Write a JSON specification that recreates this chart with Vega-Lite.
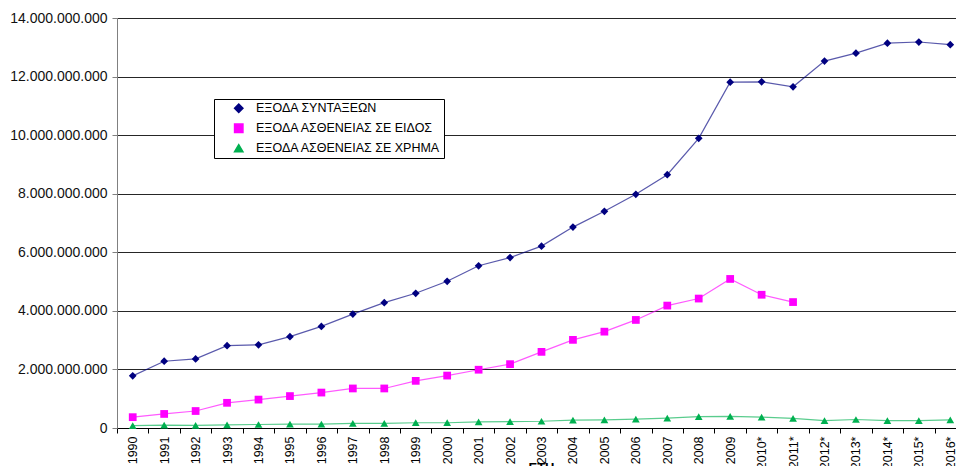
{
  "$schema": "https://vega.github.io/schema/vega-lite/v6.json",
  "autosize": {"type": "none"},
  "padding": {"left": 117, "top": 18, "right": 0, "bottom": 38},
  "width": 839,
  "height": 410,
  "background": "white",
  "config": {
    "view": {"stroke": null},
    "font": "Liberation Sans",
    "locale": {"number": {"decimal": ",", "thousands": ".", "grouping": [3], "currency": ["", " €"]}}
  },
  "data": {
    "values": [
      {"year": "1990", "series": "ΕΞΟΔΑ ΣΥΝΤΑΞΕΩΝ", "value": 1780000000},
      {"year": "1991", "series": "ΕΞΟΔΑ ΣΥΝΤΑΞΕΩΝ", "value": 2280000000},
      {"year": "1992", "series": "ΕΞΟΔΑ ΣΥΝΤΑΞΕΩΝ", "value": 2360000000},
      {"year": "1993", "series": "ΕΞΟΔΑ ΣΥΝΤΑΞΕΩΝ", "value": 2810000000},
      {"year": "1994", "series": "ΕΞΟΔΑ ΣΥΝΤΑΞΕΩΝ", "value": 2840000000},
      {"year": "1995", "series": "ΕΞΟΔΑ ΣΥΝΤΑΞΕΩΝ", "value": 3120000000},
      {"year": "1996", "series": "ΕΞΟΔΑ ΣΥΝΤΑΞΕΩΝ", "value": 3470000000},
      {"year": "1997", "series": "ΕΞΟΔΑ ΣΥΝΤΑΞΕΩΝ", "value": 3890000000},
      {"year": "1998", "series": "ΕΞΟΔΑ ΣΥΝΤΑΞΕΩΝ", "value": 4280000000},
      {"year": "1999", "series": "ΕΞΟΔΑ ΣΥΝΤΑΞΕΩΝ", "value": 4600000000},
      {"year": "2000", "series": "ΕΞΟΔΑ ΣΥΝΤΑΞΕΩΝ", "value": 5010000000},
      {"year": "2001", "series": "ΕΞΟΔΑ ΣΥΝΤΑΞΕΩΝ", "value": 5540000000},
      {"year": "2002", "series": "ΕΞΟΔΑ ΣΥΝΤΑΞΕΩΝ", "value": 5820000000},
      {"year": "2003", "series": "ΕΞΟΔΑ ΣΥΝΤΑΞΕΩΝ", "value": 6210000000},
      {"year": "2004", "series": "ΕΞΟΔΑ ΣΥΝΤΑΞΕΩΝ", "value": 6860000000},
      {"year": "2005", "series": "ΕΞΟΔΑ ΣΥΝΤΑΞΕΩΝ", "value": 7400000000},
      {"year": "2006", "series": "ΕΞΟΔΑ ΣΥΝΤΑΞΕΩΝ", "value": 7980000000},
      {"year": "2007", "series": "ΕΞΟΔΑ ΣΥΝΤΑΞΕΩΝ", "value": 8650000000},
      {"year": "2008", "series": "ΕΞΟΔΑ ΣΥΝΤΑΞΕΩΝ", "value": 9890000000},
      {"year": "2009", "series": "ΕΞΟΔΑ ΣΥΝΤΑΞΕΩΝ", "value": 11810000000},
      {"year": "2010*", "series": "ΕΞΟΔΑ ΣΥΝΤΑΞΕΩΝ", "value": 11820000000},
      {"year": "2011*", "series": "ΕΞΟΔΑ ΣΥΝΤΑΞΕΩΝ", "value": 11650000000},
      {"year": "2012*", "series": "ΕΞΟΔΑ ΣΥΝΤΑΞΕΩΝ", "value": 12530000000},
      {"year": "2013*", "series": "ΕΞΟΔΑ ΣΥΝΤΑΞΕΩΝ", "value": 12800000000},
      {"year": "2014*", "series": "ΕΞΟΔΑ ΣΥΝΤΑΞΕΩΝ", "value": 13140000000},
      {"year": "2015*", "series": "ΕΞΟΔΑ ΣΥΝΤΑΞΕΩΝ", "value": 13180000000},
      {"year": "2016*", "series": "ΕΞΟΔΑ ΣΥΝΤΑΞΕΩΝ", "value": 13090000000},

      {"year": "1990", "series": "ΕΞΟΔΑ ΑΣΘΕΝΕΙΑΣ ΣΕ ΕΙΔΟΣ", "value": 370000000},
      {"year": "1991", "series": "ΕΞΟΔΑ ΑΣΘΕΝΕΙΑΣ ΣΕ ΕΙΔΟΣ", "value": 480000000},
      {"year": "1992", "series": "ΕΞΟΔΑ ΑΣΘΕΝΕΙΑΣ ΣΕ ΕΙΔΟΣ", "value": 580000000},
      {"year": "1993", "series": "ΕΞΟΔΑ ΑΣΘΕΝΕΙΑΣ ΣΕ ΕΙΔΟΣ", "value": 860000000},
      {"year": "1994", "series": "ΕΞΟΔΑ ΑΣΘΕΝΕΙΑΣ ΣΕ ΕΙΔΟΣ", "value": 970000000},
      {"year": "1995", "series": "ΕΞΟΔΑ ΑΣΘΕΝΕΙΑΣ ΣΕ ΕΙΔΟΣ", "value": 1090000000},
      {"year": "1996", "series": "ΕΞΟΔΑ ΑΣΘΕΝΕΙΑΣ ΣΕ ΕΙΔΟΣ", "value": 1210000000},
      {"year": "1997", "series": "ΕΞΟΔΑ ΑΣΘΕΝΕΙΑΣ ΣΕ ΕΙΔΟΣ", "value": 1350000000},
      {"year": "1998", "series": "ΕΞΟΔΑ ΑΣΘΕΝΕΙΑΣ ΣΕ ΕΙΔΟΣ", "value": 1350000000},
      {"year": "1999", "series": "ΕΞΟΔΑ ΑΣΘΕΝΕΙΑΣ ΣΕ ΕΙΔΟΣ", "value": 1610000000},
      {"year": "2000", "series": "ΕΞΟΔΑ ΑΣΘΕΝΕΙΑΣ ΣΕ ΕΙΔΟΣ", "value": 1790000000},
      {"year": "2001", "series": "ΕΞΟΔΑ ΑΣΘΕΝΕΙΑΣ ΣΕ ΕΙΔΟΣ", "value": 1990000000},
      {"year": "2002", "series": "ΕΞΟΔΑ ΑΣΘΕΝΕΙΑΣ ΣΕ ΕΙΔΟΣ", "value": 2180000000},
      {"year": "2003", "series": "ΕΞΟΔΑ ΑΣΘΕΝΕΙΑΣ ΣΕ ΕΙΔΟΣ", "value": 2600000000},
      {"year": "2004", "series": "ΕΞΟΔΑ ΑΣΘΕΝΕΙΑΣ ΣΕ ΕΙΔΟΣ", "value": 3010000000},
      {"year": "2005", "series": "ΕΞΟΔΑ ΑΣΘΕΝΕΙΑΣ ΣΕ ΕΙΔΟΣ", "value": 3290000000},
      {"year": "2006", "series": "ΕΞΟΔΑ ΑΣΘΕΝΕΙΑΣ ΣΕ ΕΙΔΟΣ", "value": 3690000000},
      {"year": "2007", "series": "ΕΞΟΔΑ ΑΣΘΕΝΕΙΑΣ ΣΕ ΕΙΔΟΣ", "value": 4180000000},
      {"year": "2008", "series": "ΕΞΟΔΑ ΑΣΘΕΝΕΙΑΣ ΣΕ ΕΙΔΟΣ", "value": 4420000000},
      {"year": "2009", "series": "ΕΞΟΔΑ ΑΣΘΕΝΕΙΑΣ ΣΕ ΕΙΔΟΣ", "value": 5090000000},
      {"year": "2010*", "series": "ΕΞΟΔΑ ΑΣΘΕΝΕΙΑΣ ΣΕ ΕΙΔΟΣ", "value": 4550000000},
      {"year": "2011*", "series": "ΕΞΟΔΑ ΑΣΘΕΝΕΙΑΣ ΣΕ ΕΙΔΟΣ", "value": 4300000000},

      {"year": "1990", "series": "ΕΞΟΔΑ ΑΣΘΕΝΕΙΑΣ ΣΕ ΧΡΗΜΑ", "value": 80000000},
      {"year": "1991", "series": "ΕΞΟΔΑ ΑΣΘΕΝΕΙΑΣ ΣΕ ΧΡΗΜΑ", "value": 100000000},
      {"year": "1992", "series": "ΕΞΟΔΑ ΑΣΘΕΝΕΙΑΣ ΣΕ ΧΡΗΜΑ", "value": 90000000},
      {"year": "1993", "series": "ΕΞΟΔΑ ΑΣΘΕΝΕΙΑΣ ΣΕ ΧΡΗΜΑ", "value": 110000000},
      {"year": "1994", "series": "ΕΞΟΔΑ ΑΣΘΕΝΕΙΑΣ ΣΕ ΧΡΗΜΑ", "value": 120000000},
      {"year": "1995", "series": "ΕΞΟΔΑ ΑΣΘΕΝΕΙΑΣ ΣΕ ΧΡΗΜΑ", "value": 130000000},
      {"year": "1996", "series": "ΕΞΟΔΑ ΑΣΘΕΝΕΙΑΣ ΣΕ ΧΡΗΜΑ", "value": 130000000},
      {"year": "1997", "series": "ΕΞΟΔΑ ΑΣΘΕΝΕΙΑΣ ΣΕ ΧΡΗΜΑ", "value": 160000000},
      {"year": "1998", "series": "ΕΞΟΔΑ ΑΣΘΕΝΕΙΑΣ ΣΕ ΧΡΗΜΑ", "value": 160000000},
      {"year": "1999", "series": "ΕΞΟΔΑ ΑΣΘΕΝΕΙΑΣ ΣΕ ΧΡΗΜΑ", "value": 180000000},
      {"year": "2000", "series": "ΕΞΟΔΑ ΑΣΘΕΝΕΙΑΣ ΣΕ ΧΡΗΜΑ", "value": 180000000},
      {"year": "2001", "series": "ΕΞΟΔΑ ΑΣΘΕΝΕΙΑΣ ΣΕ ΧΡΗΜΑ", "value": 210000000},
      {"year": "2002", "series": "ΕΞΟΔΑ ΑΣΘΕΝΕΙΑΣ ΣΕ ΧΡΗΜΑ", "value": 220000000},
      {"year": "2003", "series": "ΕΞΟΔΑ ΑΣΘΕΝΕΙΑΣ ΣΕ ΧΡΗΜΑ", "value": 230000000},
      {"year": "2004", "series": "ΕΞΟΔΑ ΑΣΘΕΝΕΙΑΣ ΣΕ ΧΡΗΜΑ", "value": 270000000},
      {"year": "2005", "series": "ΕΞΟΔΑ ΑΣΘΕΝΕΙΑΣ ΣΕ ΧΡΗΜΑ", "value": 280000000},
      {"year": "2006", "series": "ΕΞΟΔΑ ΑΣΘΕΝΕΙΑΣ ΣΕ ΧΡΗΜΑ", "value": 300000000},
      {"year": "2007", "series": "ΕΞΟΔΑ ΑΣΘΕΝΕΙΑΣ ΣΕ ΧΡΗΜΑ", "value": 340000000},
      {"year": "2008", "series": "ΕΞΟΔΑ ΑΣΘΕΝΕΙΑΣ ΣΕ ΧΡΗΜΑ", "value": 390000000},
      {"year": "2009", "series": "ΕΞΟΔΑ ΑΣΘΕΝΕΙΑΣ ΣΕ ΧΡΗΜΑ", "value": 400000000},
      {"year": "2010*", "series": "ΕΞΟΔΑ ΑΣΘΕΝΕΙΑΣ ΣΕ ΧΡΗΜΑ", "value": 370000000},
      {"year": "2011*", "series": "ΕΞΟΔΑ ΑΣΘΕΝΕΙΑΣ ΣΕ ΧΡΗΜΑ", "value": 330000000},
      {"year": "2012*", "series": "ΕΞΟΔΑ ΑΣΘΕΝΕΙΑΣ ΣΕ ΧΡΗΜΑ", "value": 250000000},
      {"year": "2013*", "series": "ΕΞΟΔΑ ΑΣΘΕΝΕΙΑΣ ΣΕ ΧΡΗΜΑ", "value": 290000000},
      {"year": "2014*", "series": "ΕΞΟΔΑ ΑΣΘΕΝΕΙΑΣ ΣΕ ΧΡΗΜΑ", "value": 250000000},
      {"year": "2015*", "series": "ΕΞΟΔΑ ΑΣΘΕΝΕΙΑΣ ΣΕ ΧΡΗΜΑ", "value": 250000000},
      {"year": "2016*", "series": "ΕΞΟΔΑ ΑΣΘΕΝΕΙΑΣ ΣΕ ΧΡΗΜΑ", "value": 280000000}
    ]
  },
  "encoding": {
    "x": {
      "field": "year",
      "type": "ordinal",
      "sort": null,
      "scale": {"type": "band", "paddingInner": 0, "paddingOuter": 0, "range": [0, 849]},
      "axis": {
        "title": "ΕΤΗ",
        "titleFont": "Liberation Sans",
        "titleFontSize": 13,
        "titleFontWeight": "bold",
        "titleColor": "black",
        "titleX": 424,
        "titleY": 43,
        "titleAlign": "center",
        "titleBaseline": "alphabetic",
        "labelAngle": 270,
        "labelFontSize": 12.5,
        "labelColor": "black",
        "labelPadding": 3,
        "tickBand": "extent",
        "tickSize": 5,
        "tickColor": "black",
        "domainColor": "black",
        "grid": false
      }
    },
    "y": {
      "field": "value",
      "type": "quantitative",
      "scale": {"domain": [0, 14000000000], "nice": false},
      "axis": {
        "title": null,
        "values": [0, 2000000000, 4000000000, 6000000000, 8000000000, 10000000000, 12000000000, 14000000000],
        "format": ",d",
        "labelFontSize": 14,
        "labelColor": "#111",
        "labelPadding": 5,
        "tickSize": 5,
        "tickColor": "#808080",
        "domainColor": "#808080",
        "grid": true,
        "gridColor": "#262626",
        "gridOpacity": 1
      }
    },
    "color": {
      "field": "series",
      "type": "nominal",
      "scale": {
        "domain": ["ΕΞΟΔΑ ΣΥΝΤΑΞΕΩΝ", "ΕΞΟΔΑ ΑΣΘΕΝΕΙΑΣ ΣΕ ΕΙΔΟΣ", "ΕΞΟΔΑ ΑΣΘΕΝΕΙΑΣ ΣΕ ΧΡΗΜΑ"],
        "range": ["#000080", "#ff00ff", "#00b050"]
      },
      "legend": {
        "title": null,
        "orient": "none",
        "legendX": 97,
        "legendY": 81,
        "padding": 3,
        "rowPadding": 5,
        "fillColor": "white",
        "strokeColor": "black",
        "cornerRadius": 0,
        "labelFontSize": 12.5,
        "labelColor": "black",
        "labelLimit": 400,
        "labelExpr": "datum.label + '         '",
        "symbolSize": 70,
        "symbolOpacity": 1,
        "symbolOffset": 15.5,
        "labelOffset": 11
      }
    }
  },
  "layer": [
    {
      "mark": {"type": "line", "strokeWidth": 1.2, "opacity": 0.65}
    },
    {
      "mark": {"type": "point", "filled": true, "opacity": 1, "size": 60},
      "encoding": {
        "shape": {
          "field": "series",
          "type": "nominal",
          "scale": {
            "domain": ["ΕΞΟΔΑ ΣΥΝΤΑΞΕΩΝ", "ΕΞΟΔΑ ΑΣΘΕΝΕΙΑΣ ΣΕ ΕΙΔΟΣ", "ΕΞΟΔΑ ΑΣΘΕΝΕΙΑΣ ΣΕ ΧΡΗΜΑ"],
            "range": ["diamond", "square", "triangle-up"]
          }
        }
      }
    }
  ]
}
